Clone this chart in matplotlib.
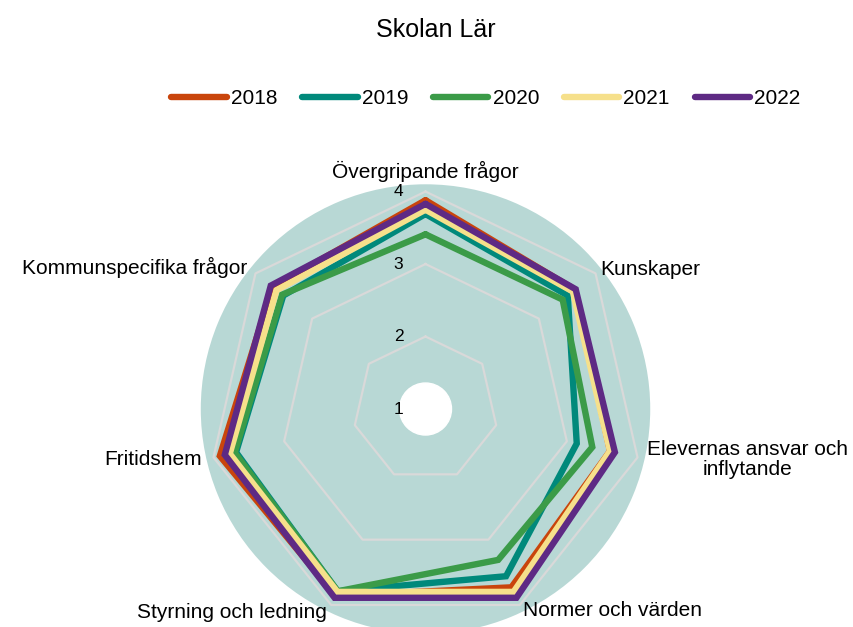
import numpy as np
import matplotlib
matplotlib.use('Agg')
import matplotlib.pyplot as plt
from matplotlib.patches import Circle

plt.rcParams['font.family'] = ['Liberation Sans', 'DejaVu Sans']

categories = ['Övergripande frågor', 'Kunskaper', 'Elevernas ansvar och\ninflytande',
              'Normer och värden', 'Styrning och ledning', 'Fritidshem',
              'Kommunspecifika frågor']
years = ['2018', '2019', '2020', '2021', '2022']
v2018 = [3.88, 3.64, 3.61, 3.73, 3.86, 3.91, 3.70]
v2019 = [3.69, 3.51, 3.14, 3.56, 3.79, 3.68, 3.51]
v2020 = [3.41, 3.42, 3.36, 3.31, 3.79, 3.70, 3.53]
v2021 = [3.75, 3.60, 3.61, 3.80, 3.80, 3.77, 3.63]
v2022 = [3.83, 3.65, 3.68, 3.89, 3.89, 3.84, 3.73]
series = [v2018, v2019, v2020, v2021, v2022]
colors = ['#C9450C', '#00897B', '#3B9B48', '#F6E08B', '#5E2A84']
ticks = [1, 2, 3, 4]

fig = plt.figure(figsize=(8.54, 6.27), dpi=100)
# centre ~ (425.5, 409) px, radius ~225 px
ax = fig.add_axes([0.2351, -0.0108, 0.5263, 0.7169], projection='polar')
ax.set_theta_zero_location('N')
ax.set_theta_direction(-1)
ax.set_ylim(1, 4.1)
ax.set_facecolor('#B8D8D5')
ax.spines['polar'].set_visible(False)
ax.grid(False)
ax.set_xticks([])
ax.set_yticks([])

n = len(categories)
ang = np.arange(n) * 2 * np.pi / n
ang_c = np.append(ang, ang[0])

# heptagon grid
for t in ticks[1:]:
    ax.plot(ang_c, [t] * (n + 1), color='#D9D9D9', lw=1.6, zorder=1)

ax.add_patch(Circle((0.5, 0.5), 26 / 449.5, transform=ax.transAxes,
                    color='white', zorder=2))

for yr, vals, c in zip(years, series, colors):
    ax.plot(ang_c, vals + vals[:1], color=c, lw=4.6, label=yr,
            solid_joinstyle='miter', solid_capstyle='round', zorder=3)

for t in ticks:
    ax.annotate(str(t), xy=(0, t), xytext=(-27, 0), textcoords='offset pixels',
                ha='center', va='center', fontsize=12.5, zorder=4)

# category labels
lab_pos = [(4.28, 'center'), (4.09, 'left'), (4.13, 'left'), (4.09, 'left'),
           (4.12, 'right'), (4.16, 'right'), (4.14, 'right')]
for a, cat, (r, ha) in zip(ang, categories, lab_pos):
    ax.text(a, r, cat, ha=ha, va='center', multialignment='center',
            fontsize=15, linespacing=1.1)

fig.text(436 / 854, 1 - 30 / 627, 'Skolan Lär', ha='center', va='center', fontsize=18)

leg = fig.legend(loc='center', bbox_to_anchor=(486 / 854, 1 - 99 / 627), ncol=5,
                 frameon=False, fontsize=15, handlelength=2.65, handletextpad=0.2,
                 columnspacing=1.2)

fig.savefig('out.png', dpi=100)
